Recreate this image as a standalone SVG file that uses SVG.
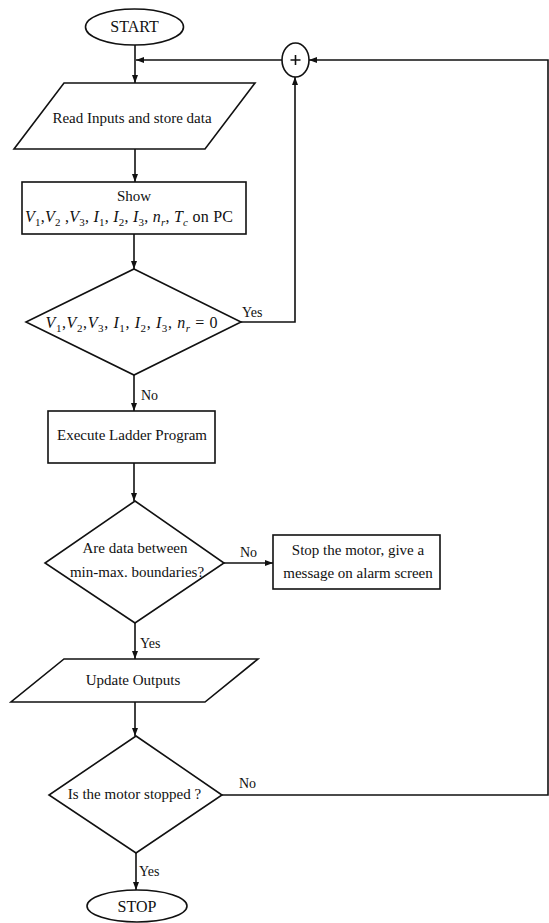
<svg xmlns="http://www.w3.org/2000/svg" width="549" height="923" viewBox="0 0 549 923">
  <style>
    .shape { fill: #ffffff; stroke: #111111; stroke-width: 1.6; }
    .wire { fill: none; stroke: #111111; stroke-width: 1.6; }
    .t { font-family: "Liberation Serif", "Times New Roman", serif; font-size: 15px; fill: #111111; text-anchor: middle; }
    .m { font-family: "Liberation Serif", "Times New Roman", serif; font-size: 16px; fill: #111111; text-anchor: middle; }
    .lbl { font-family: "Liberation Serif", "Times New Roman", serif; font-size: 14px; fill: #111111; }
    .i { font-style: italic; }
    .s { font-size: 11px; }
  </style>
  <defs>
    <marker id="arrow" viewBox="0 0 8 6" refX="8" refY="3" markerWidth="8" markerHeight="6" markerUnits="userSpaceOnUse" orient="auto">
      <path d="M0,0 L8,3 L0,6 z" fill="#111111"/>
    </marker>
  </defs>

  <rect width="549" height="923" fill="#ffffff"/>

  <!-- connectors -->
  <g id="connectors">
    <line class="wire" x1="135" y1="45" x2="135" y2="83" marker-end="url(#arrow)"/>
    <line class="wire" x1="282" y1="60" x2="136" y2="60" marker-end="url(#arrow)"/>
    <line class="wire" x1="135" y1="149" x2="135" y2="182" marker-end="url(#arrow)"/>
    <line class="wire" x1="134" y1="234" x2="134" y2="269" marker-end="url(#arrow)"/>
    <polyline class="wire" points="241,322 295,322 295,77" marker-end="url(#arrow)"/>
    <line class="wire" x1="134" y1="375" x2="134" y2="411" marker-end="url(#arrow)"/>
    <line class="wire" x1="134" y1="463" x2="134" y2="501" marker-end="url(#arrow)"/>
    <line class="wire" x1="224" y1="563" x2="273" y2="563" marker-end="url(#arrow)"/>
    <line class="wire" x1="135" y1="623" x2="135" y2="659" marker-end="url(#arrow)"/>
    <line class="wire" x1="135" y1="702" x2="135" y2="736" marker-end="url(#arrow)"/>
    <polyline class="wire" points="222,795 548,795 548,60 309,60" marker-end="url(#arrow)"/>
    <line class="wire" x1="136" y1="853" x2="136" y2="890" marker-end="url(#arrow)"/>

    <text class="lbl" x="242" y="317">Yes</text>
    <text class="lbl" x="141" y="400">No</text>
    <text class="lbl" x="240" y="557">No</text>
    <text class="lbl" x="140" y="648">Yes</text>
    <text class="lbl" x="239" y="788">No</text>
    <text class="lbl" x="139" y="876">Yes</text>
  </g>

  <!-- terminal: start -->
  <g id="start">
    <ellipse class="shape" cx="134.5" cy="27" rx="49" ry="18"/>
    <text class="t" x="134.5" y="32" style="font-size:16px">START</text>
  </g>

  <!-- summing junction -->
  <g id="junction">
    <ellipse class="shape" cx="295.5" cy="60" rx="13.5" ry="17"/>
    <path class="wire" d="M290.5,60 H300.5 M295.5,55 V65"/>
  </g>

  <!-- input: read data -->
  <g id="read-inputs">
    <polygon class="shape" points="64,83 255,83 205,149 14,149"/>
    <text class="t" x="132" y="123">Read Inputs and store data</text>
  </g>

  <!-- process: show values -->
  <g id="show-values">
    <rect class="shape" x="22" y="182" width="224" height="52"/>
    <text class="t" x="134" y="201">Show</text>
    <text class="m" x="129" y="222" textLength="208" lengthAdjust="spacing"><tspan class="i">V</tspan><tspan class="s" dy="4">1</tspan><tspan dy="-4">,</tspan><tspan class="i">V</tspan><tspan class="s" dy="4">2</tspan><tspan dy="-4"> ,</tspan><tspan class="i">V</tspan><tspan class="s" dy="4">3</tspan><tspan dy="-4">, </tspan><tspan class="i">I</tspan><tspan class="s" dy="4">1</tspan><tspan dy="-4">, </tspan><tspan class="i">I</tspan><tspan class="s" dy="4">2</tspan><tspan dy="-4">, </tspan><tspan class="i">I</tspan><tspan class="s" dy="4">3</tspan><tspan dy="-4">, </tspan><tspan class="i">n</tspan><tspan class="s i" dy="4">r</tspan><tspan dy="-4">, </tspan><tspan class="i">T</tspan><tspan class="s i" dy="4">c</tspan><tspan dy="-4">  on PC</tspan></text>
  </g>

  <!-- decision: all zero -->
  <g id="check-zero">
    <polygon class="shape" points="134,269 241,322 134,375 26,322"/>
    <text class="m" x="131.5" y="328" textLength="172" lengthAdjust="spacing"><tspan class="i">V</tspan><tspan class="s" dy="4">1</tspan><tspan dy="-4">,</tspan><tspan class="i">V</tspan><tspan class="s" dy="4">2</tspan><tspan dy="-4">,</tspan><tspan class="i">V</tspan><tspan class="s" dy="4">3</tspan><tspan dy="-4">, </tspan><tspan class="i">I</tspan><tspan class="s" dy="4">1</tspan><tspan dy="-4">, </tspan><tspan class="i">I</tspan><tspan class="s" dy="4">2</tspan><tspan dy="-4">, </tspan><tspan class="i">I</tspan><tspan class="s" dy="4">3</tspan><tspan dy="-4">, </tspan><tspan class="i">n</tspan><tspan class="s i" dy="4">r</tspan><tspan dy="-4"> = 0</tspan></text>
  </g>

  <!-- process: ladder -->
  <g id="execute-ladder">
    <rect class="shape" x="48" y="411" width="167" height="52"/>
    <text class="t" x="132" y="440">Execute Ladder Program</text>
  </g>

  <!-- decision: limits -->
  <g id="check-limits">
    <polygon class="shape" points="135,501 224,563 135,623 45,563"/>
    <text class="t" x="135" y="553">Are data between</text>
    <text class="t" x="137" y="577">min-max. boundaries?</text>
  </g>

  <!-- process: alarm -->
  <g id="alarm">
    <rect class="shape" x="273" y="535" width="167" height="54"/>
    <text class="t" x="358" y="555">Stop the motor, give a</text>
    <text class="t" x="358" y="578">message on alarm screen</text>
  </g>

  <!-- output: update -->
  <g id="update-outputs">
    <polygon class="shape" points="64,659 258,659 205,702 11,702"/>
    <text class="t" x="133" y="685">Update Outputs</text>
  </g>

  <!-- decision: motor stopped -->
  <g id="check-stopped">
    <polygon class="shape" points="136,736 222,795 136,853 49,795"/>
    <text class="t" x="134.5" y="799">Is the motor stopped ?</text>
  </g>

  <!-- terminal: stop -->
  <g id="stop">
    <ellipse class="shape" cx="137" cy="906" rx="50" ry="16"/>
    <text class="t" x="137" y="912" style="font-size:16px">STOP</text>
  </g>
</svg>
